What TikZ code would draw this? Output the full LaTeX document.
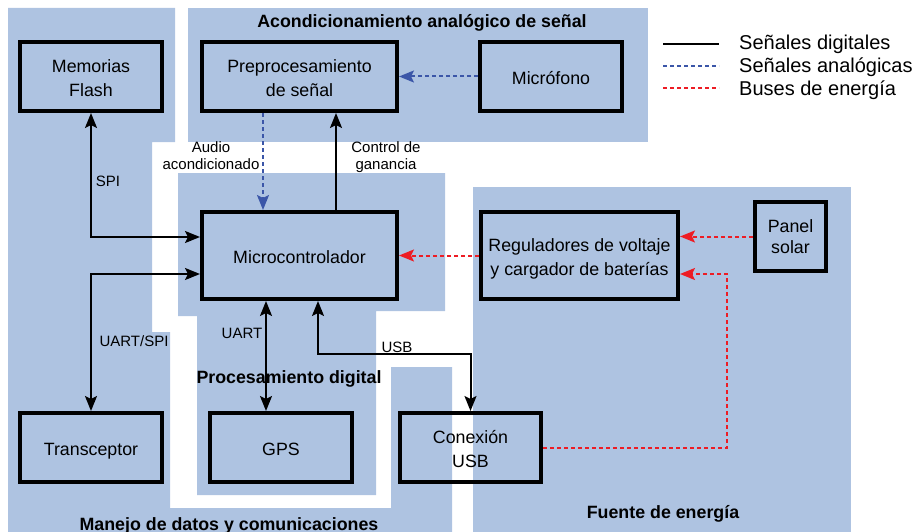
\documentclass[tikz,border=0pt]{standalone}
\usepackage{fontspec}
\setmainfont{Liberation Sans}
\usetikzlibrary{arrows.meta,calc}
\definecolor{regblue}{HTML}{AEC3E1}
\definecolor{anablue}{HTML}{3B56A8}
\definecolor{powred}{HTML}{ED1C24}
\newcommand{\blkTop}{\rule{0pt}{20pt}}
\newcommand{\blkBot}{\rule[-4pt]{0pt}{4pt}}
\begin{document}
\begin{tikzpicture}[x=1pt,y=-1pt,
  >={Stealth[length=15pt,width=12pt,inset=3pt]},
  region/.style={fill=regblue,draw=none},
  blk/.style={draw=black,line width=4pt,minimum width=142pt,minimum height=69pt,
    align=center,inner sep=0pt,font=\fontsize{17.8}{24}\selectfont},
  dig/.style={line width=2pt,draw=black},
  ana/.style={line width=2pt,draw=anablue,dash pattern=on 4pt off 3pt},
  pow/.style={line width=2pt,draw=powred,dash pattern=on 4pt off 3pt},
  lbl/.style={align=center,inner sep=0pt,font=\fontsize{15}{17}\selectfont},
  ttl/.style={inner sep=0pt,font=\fontsize{17.8}{20}\selectfont\bfseries},
  leg/.style={anchor=west,inner sep=0pt,font=\fontsize{20}{22}\selectfont}]
\useasboundingbox (0,0) rectangle (917,532);
% regions
\fill[region] (8,8) -- (175,8) -- (175,142) -- (152,142) -- (152,332) -- (170,332)
  -- (170,508) -- (391,508) -- (391,367) -- (452,367) -- (452,532) -- (8,532) -- cycle;
\fill[region] (188,8) rectangle (648,142);
\fill[region] (178,173) -- (445,173) -- (445,311) -- (376,311) -- (376,495)
  -- (197,495) -- (197,316) -- (178,316) -- cycle;
\fill[region] (473,187) rectangle (851,532);
% titles
\node[ttl] (tacond) at (422,22.5) {Acondicionamiento analógico de señal};
\node[ttl] (tproc) at (289,378.5) {Procesamiento digital};
\node[ttl] (tman) at (229,525.5) {Manejo de datos y comunicaciones};
\node[ttl] (tfue) at (663,513.5) {Fuente de energía};
% blocks
\node[blk] (mem) at (91,76.5) {\blkTop Memorias\\Flash\blkBot};
\node[blk,minimum width=195pt] (pre) at (299.5,76.5) {\blkTop Preprocesamiento\\de señal\blkBot};
\node[blk] (mic) at (551,76.5) {\blkTop Micrófono\blkBot};
\node[blk,minimum width=195pt,minimum height=87pt] (mcu) at (299.5,255.5) {\blkTop Microcontrolador\blkBot};
\node[blk,minimum width=197pt,minimum height=87pt] (reg) at (579.5,255.5) {\blkTop Reguladores de voltaje\\y cargador de baterías\blkBot};
\node[blk,minimum width=71pt,font=\fontsize{17.8}{21}\selectfont] (pan) at (790.5,236.5) {Panel\\solar};
\node[blk] (tra) at (91,447.5) {\blkTop Transceptor\blkBot};
\node[blk] (gps) at (281,447.5) {\blkTop GPS\blkBot};
\node[blk,minimum width=141pt] (usb) at (470.5,447.5) {\blkTop Conexión\\USB\blkBot};
% connectors
\draw[dig,<->] (mem.south) |- ([yshift=18.5pt]mcu.west);
\draw[dig,<->] ([yshift=-18.5pt]mcu.west) -| (tra.north);
\draw[ana,->] ([xshift=-36.5pt]pre.south) -- ([xshift=-36.5pt]mcu.north);
\draw[dig,->] ([xshift=36.5pt]mcu.north) -- ([xshift=36.5pt]pre.south);
\draw[ana,->] (mic.west) -- (pre.east);
\draw[pow,->] (reg.west) -- (mcu.east);
\draw[pow,->] (pan.west) -- (pan.west -| reg.east);
\draw[pow,->] (usb.east) -- ++(184,0) |- ([yshift=-18.5pt]reg.east);
\draw[dig,<->] ([xshift=-33.5pt]mcu.south) -- ([xshift=-33.5pt]mcu.south |- gps.north);
\draw[dig,<->] ([xshift=18.5pt]mcu.south) -- ++(0,53) -| (usb.north);
% labels
\node[lbl] (lspi) at (108,181) {SPI};
\node[lbl] (laudio) at (211,155.5) {Audio\\acondicionado};
\node[lbl] (lctrl) at (386,157) {Control de\\ganancia};
\node[lbl] (luartspi) at (134,341) {UART/SPI};
\node[lbl] (luart) at (242,333) {UART};
\node[lbl] (lusb) at (397,347) {USB};
% legend
\coordinate (la1) at (663,44); \coordinate (lb1) at (719,44);
\coordinate (la2) at (663,66); \coordinate (lb2) at (719,66);
\coordinate (la3) at (663,88); \coordinate (lb3) at (719,88);
\draw[dig,line width=2.5pt] (la1) -- (lb1);
\draw[ana] (la2) -- (lb2);
\draw[pow] (la3) -- (lb3);
\node[leg] (ld) at (739,44.5) {Señales digitales};
\node[leg] (la) at (739,67.5) {Señales analógicas};
\node[leg] (lp) at (739,90) {Buses de energía};
\end{tikzpicture}
\end{document}
